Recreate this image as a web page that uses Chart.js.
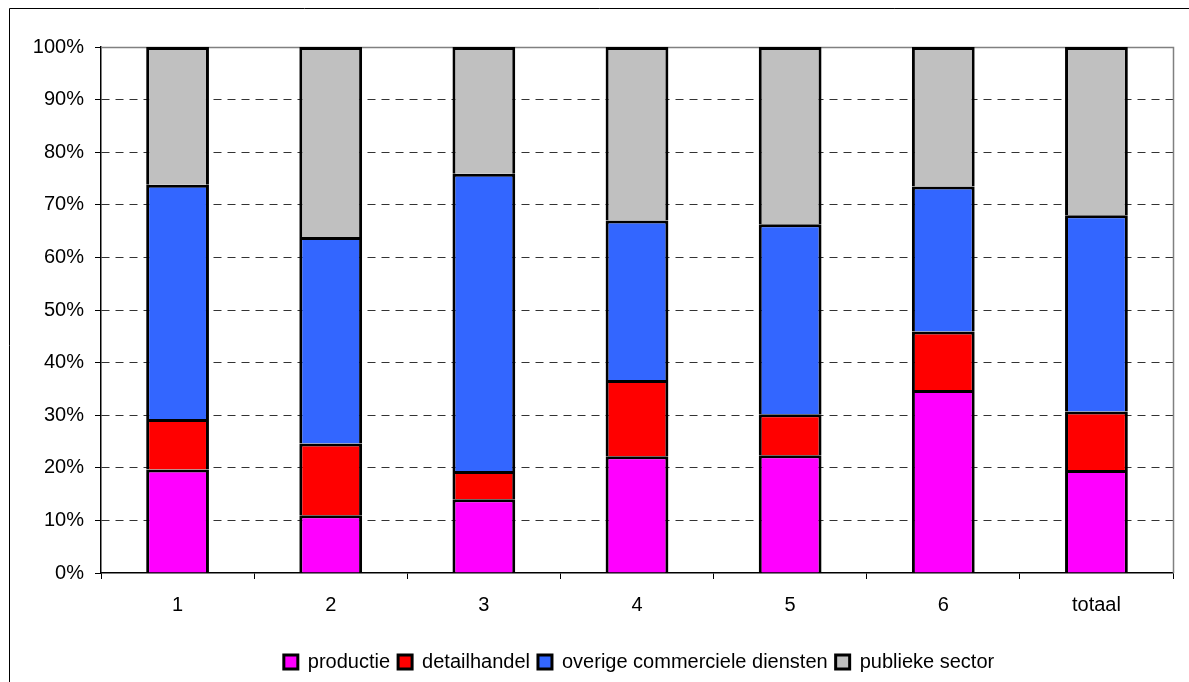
<!DOCTYPE html>
<html>
<head>
<meta charset="utf-8">
<script src="https://cdn.jsdelivr.net/npm/chart.js@4/dist/chart.umd.min.js"></script>
<style>
  html, body { margin: 0; padding: 0; background: #fff; }
  #wrap { width: 1189px; height: 682px; position: relative; }
</style>
</head>
<body>
<div id="wrap"><canvas id="c" width="1189" height="682"></canvas></div>
<script>
// Share of employment per sector, per group (percent of total)
const categories   = ['1', '2', '3', '4', '5', '6', 'totaal'];
const productie    = [19.7, 11.0, 14.0, 22.2, 22.4, 34.8, 19.6];
const detailhandel = [9.6, 13.6, 5.4, 14.5, 7.8, 11.1, 11.1];
const overige      = [44.5, 39.3, 56.5, 30.3, 36.1, 27.6, 37.3];
const publiek      = [26.2, 36.1, 24.1, 33.0, 33.7, 26.5, 32.0];

const seriesNames  = ['productie', 'detailhandel', 'overige commerciele diensten', 'publieke sector'];
const seriesColors = ['#FF00FF', '#FF0000', '#3366FF', '#C0C0C0'];
const yTicks = [0, 10, 20, 30, 40, 50, 60, 70, 80, 90, 100];

const FONT = "'Liberation Sans', Arial, Helvetica, sans-serif";
Chart.defaults.font.family = FONT;
Chart.defaults.font.size = 20;
Chart.defaults.color = '#000';

// Frame around the whole chart, grey plot border (top and right),
// and the legend centred under the plot area rather than the canvas
const frame = {
  id: 'frame',
  beforeDraw(chart) {
    const ctx = chart.ctx;
    ctx.save();
    ctx.fillStyle = '#fff';
    ctx.fillRect(0, 0, chart.width, chart.height);
    ctx.strokeStyle = '#000';
    ctx.lineWidth = 1;
    ctx.beginPath();
    ctx.moveTo(9.5, chart.height);
    ctx.lineTo(9.5, 8.5);
    ctx.lineTo(chart.width, 8.5);
    ctx.stroke();
    ctx.restore();
    if (chart.legend) {
      chart.legend.left = chart.chartArea.left + 4;
      chart.legend.right = chart.chartArea.right;
    }
  },
  beforeDatasetsDraw(chart) {
    const a = chart.chartArea;
    const ctx = chart.ctx;
    ctx.save();
    ctx.strokeStyle = '#808080';
    ctx.lineWidth = 1.5;
    ctx.beginPath();
    ctx.moveTo(Math.round(a.left), Math.round(a.top) + 0.5);
    ctx.lineTo(Math.round(a.right) + 0.5, Math.round(a.top) + 0.5);
    ctx.lineTo(Math.round(a.right) + 0.5, Math.round(a.bottom));
    ctx.stroke();
    ctx.restore();
  }
};

const datasets = [productie, detailhandel, overige, publiek].map((vals, i) => ({
  label: seriesNames[i],
  data: vals,
  backgroundColor: seriesColors[i],
  borderColor: '#000',
  borderWidth: 3,
  barPercentage: 0.41,
  categoryPercentage: 1.0
}));

new Chart(document.getElementById('c'), {
  type: 'bar',
  data: { labels: categories, datasets },
  plugins: [frame],
  options: {
    responsive: false,
    animation: false,
    layout: { padding: { top: 47, right: 16, bottom: 0, left: 0 } },
    plugins: {
      tooltip: { enabled: false },
      legend: {
        position: 'bottom',
        labels: {
          boxWidth: 14,
          boxHeight: 14,
          padding: 8,
          color: '#000',
          font: { size: 20, family: FONT }
        }
      }
    },
    scales: {
      x: {
        stacked: true,
        offset: true,
        grid: {
          offset: true,
          drawOnChartArea: false,
          drawTicks: true,
          tickLength: 6,
          tickColor: '#000',
          tickWidth: 1
        },
        border: { display: true, color: '#000', width: 1.5 },
        ticks: { padding: 14, color: '#000', font: { size: 20 }, maxRotation: 0 },
        afterFit(scale) { scale.height = 71; }
      },
      y: {
        stacked: true,
        min: 0,
        max: 100,
        afterBuildTicks(scale) { scale.ticks = yTicks.map(v => ({ value: v })); },
        grid: {
          color: ctx => (ctx.tick && (ctx.tick.value === 100 || ctx.tick.value === 0)) ? 'rgba(0,0,0,0)' : '#333',
          lineWidth: 1,
          drawTicks: true,
          tickLength: 6,
          tickColor: '#000',
          tickWidth: 1,
          tickBorderDash: [0, 0]
        },
        border: { display: true, color: '#000', width: 1.5, dash: [8, 6] },
        ticks: {
          padding: 11,
          color: '#000',
          font: { size: 20 },
          callback: v => v + '%'
        },
        afterFit(scale) { scale.width = 101; }
      }
    }
  }
});
</script>
</body>
</html>
